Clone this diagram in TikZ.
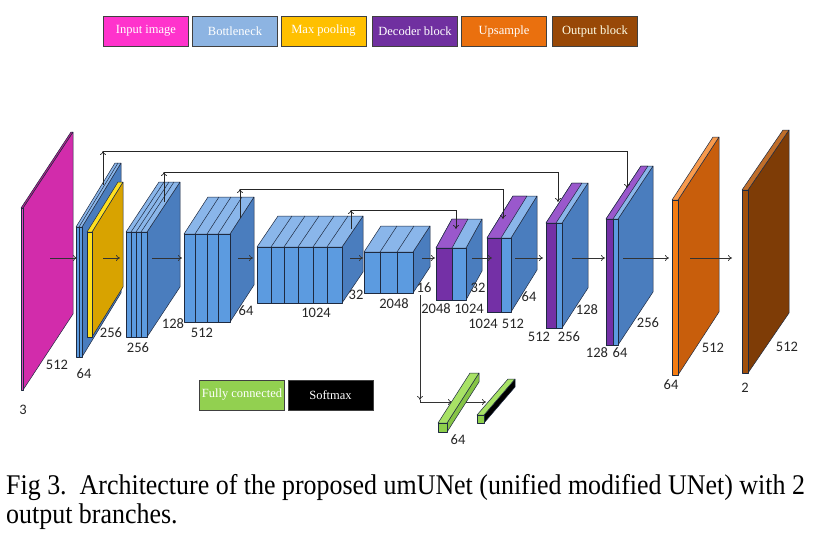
\documentclass[tikz,border=0pt]{standalone}
\usepackage{fontspec}
\setmainfont{Liberation Serif}
\newfontfamily\numfont{Carlito}
\usetikzlibrary{arrows.meta}
\definecolor{magF}{HTML}{E448C4}
\definecolor{magT}{HTML}{B8208F}
\definecolor{magS}{HTML}{D22CAB}
\definecolor{bluF}{HTML}{5C9BE0}
\definecolor{bluT}{HTML}{8AB6EA}
\definecolor{bluS}{HTML}{4A7DBE}
\definecolor{golF}{HTML}{FFE020}
\definecolor{golT}{HTML}{FFE020}
\definecolor{golS}{HTML}{D8A300}
\definecolor{purF}{HTML}{7430A6}
\definecolor{purT}{HTML}{9A58CC}
\definecolor{oraF}{HTML}{F47C12}
\definecolor{oraT}{HTML}{F89A4C}
\definecolor{oraS}{HTML}{C85E0C}
\definecolor{brnF}{HTML}{A0500C}
\definecolor{brnT}{HTML}{C06E2A}
\definecolor{brnS}{HTML}{7E3C06}
\definecolor{grnF}{HTML}{8ED04C}
\definecolor{grnT}{HTML}{A8E266}
\definecolor{grnS}{HTML}{86C446}
\definecolor{legMag}{HTML}{FF33CC}
\definecolor{legBlu}{HTML}{8DB4E2}
\definecolor{legGol}{HTML}{FFC000}
\definecolor{legPur}{HTML}{7030A0}
\definecolor{legOra}{HTML}{EA700E}
\definecolor{legBrn}{HTML}{984807}
\definecolor{legGrn}{HTML}{92D050}
\definecolor{edgecol}{HTML}{1E2A40}
\definecolor{arrcol}{HTML}{333333}
% x y w h dx dy front top side
\newcommand\ucube[9]{%
  \filldraw[cubeedge,fill=#9] (#1+#3,#2) -- ++(#5,-#6) -- ++(0,#4) -- ++(-#5,#6) -- cycle;
  \filldraw[cubeedge,fill=#8] (#1,#2) -- ++(#5,-#6) -- ++(#3,0) -- ++(-#5,#6) -- cycle;
  \filldraw[cubeedge,fill=#7] (#1,#2) rectangle ++(#3,#4);
}
% decoder block: x y wpurple wblue h dx dy
\newcommand\ucubeD[7]{%
  \ucube{#1}{#2}{#3+#4}{#5}{#6}{#7}{bluF}{bluT}{bluS}
  \filldraw[cubeedge,fill=purT] (#1,#2) -- ++(#6,-#7) -- ++(#3,0) -- ++(-#6,#7) -- cycle;
  \filldraw[cubeedge,fill=purF] (#1,#2) rectangle ++(#3,#5);
}
% slice lines: list y h dx dy
\newcommand\uslices[5]{%
  \foreach \s in {#1} {\draw[cubeedge] (\s,#2) -- ++(0,#3); \draw[cubeedge] (\s,#2) -- ++(#4,-#5);}
}
\begin{document}
\begin{tikzpicture}[x=1pt,y=-1pt,
  cubeedge/.style={draw=edgecol,line width=0.5pt,line join=round},
  legend/.style={draw=black!75,line width=0.9pt,minimum width=85pt,minimum height=30pt,inner sep=0pt,text=white,font=\fontsize{12.5}{13}\selectfont},
  num/.style={font=\numfont\fontsize{14.5}{15}\selectfont,text=black!85,inner sep=0pt},
  arr/.style={draw=arrcol,line width=0.7pt,-{To[length=4pt,width=6pt]}},
  skip/.style={draw=black!85,line width=0.7pt,-{To[length=4pt,width=6pt]}},
  capt/.style={font=\fontsize{28.5}{29}\selectfont,inner sep=0pt,anchor=base west}]
\fill[white] (0,0) rectangle (833,536);
\useasboundingbox (0,0) rectangle (833,536);

% legend
\node[legend,fill=legMag] (lin) at (146,31) {Input image};
\node[legend,fill=legBlu] (lbo) at (235,31) {Bottleneck};
\node[legend,fill=legGol] (lmp) at (323.5,31) {Max pooling};
\node[legend,fill=legPur] (lde) at (415,31) {Decoder block};
\node[legend,fill=legOra] (lup) at (504,31) {Upsample};
\node[legend,fill=legBrn,text=white!90!yellow] (lou) at (595,31) {Output block};
\node[legend,fill=legGrn] (lfc) at (242,395) {Fully connected};
\node[legend,fill=black] (lsm) at (330.5,395) {Softmax};

% blocks
\ucube{21}{208}{2}{182}{50}{76}{magF}{magT}{magS}
\ucube{76}{227}{6}{130}{39}{64}{bluF}{bluT}{bluS}
\uslices{79}{227}{130}{39}{64}
\ucube{87}{232}{5}{105}{31}{50}{golF}{golT}{golS}
\ucube{126}{232}{21}{105}{33}{50}{bluF}{bluT}{bluS}
\uslices{131,136,141}{232}{105}{33}{50}
\ucube{184}{234}{46}{88}{24}{37}{bluF}{bluT}{bluS}
\uslices{195,207,218}{234}{88}{24}{37}
\ucube{257}{247}{85}{56}{21}{31}{bluF}{bluT}{bluS}
\uslices{271,284,298,313,327}{247}{56}{21}{31}
\draw[cubeedge,line width=1pt] (313,247) -- ++(0,56);
\ucube{364}{252}{49}{41}{17}{26}{bluF}{bluT}{bluS}
\uslices{380,397}{252}{41}{17}{26}
\ucubeD{436}{248}{16}{14}{52}{16}{29}
\ucubeD{487}{238}{14}{10}{74}{26}{42}
\ucubeD{546}{223}{10}{6}{105}{26}{40}
\ucubeD{606}{219}{7}{5}{126}{35}{53}
\ucube{672}{200}{6}{175}{41}{63}{oraF}{oraT}{oraS}
\ucube{742}{190}{6}{183}{41}{60}{brnF}{brnT}{brnS}

% main flow arrows
\foreach \n/\a/\b in {1/50/77,2/103/120,3/152/182,4/238/253,5/350/363,6/422/435,7/472/492,8/515/543,9/572/605,10/623/669,11/690/732}{
  \coordinate (f\n s) at (\a,258);
  \coordinate (f\n e) at (\b,258);
  \draw[arr] (f\n s) -- (f\n e);
}

% skip connections
\foreach \n/\xa/\ya/\yh/\xb/\yb in {1/103/185/151/627/188,2/164/202/172/558/202,3/240/218/189/503/219,4/351/229/210/456/229}{
  \coordinate (k\n s) at (\xa,\ya);
  \coordinate (k\n c) at (\xa,\yh);
  \coordinate (k\n e) at (\xb,\yb);
  \draw[skip] (k\n s) -- (k\n c);
  \draw[skip] (k\n c) -| (k\n e);
}

% classification branch
\coordinate (b0) at (420,295);
\coordinate (b1) at (420,400);
\coordinate (b2) at (420,402);
\coordinate (b3) at (452,402);
\coordinate (b4) at (466,402);
\coordinate (b5) at (486,402);
\draw[arr] (b0) -- (b1);
\draw[draw=arrcol,line width=0.7pt] (b1) -- (b2);
\draw[arr] (b2) -- (b3);
\ucube{438}{423}{9}{9}{32}{50}{grnF}{grnT}{grnS}
\draw[arr] (b4) -- (b5);
\ucube{477}{415}{7}{8}{31}{36}{grnF}{grnT}{black}

% dimension labels
\node[num] (n1) at (23,410) {3};
\node[num] (n2) at (57,365) {512};
\node[num] (n3) at (84,374) {64};
\node[num] (n4) at (111,333) {256};
\node[num] (n5) at (138,348) {256};
\node[num] (n6) at (173,324) {128};
\node[num] (n7) at (202,333) {512};
\node[num] (n8) at (246,311) {64};
\node[num] (n9) at (316,313) {1024};
\node[num] (n10) at (356,295) {32};
\node[num] (n11) at (394,304) {2048};
\node[num] (n12) at (424,288) {16};
\node[num] (n13) at (436,309) {2048};
\node[num] (n14) at (469,309) {1024};
\node[num] (n15) at (478,288) {32};
\node[num] (n16) at (483,324) {1024};
\node[num] (n17) at (513,324) {512};
\node[num] (n18) at (529,297) {64};
\node[num] (n19) at (587,310) {128};
\node[num] (n20) at (539,337) {512};
\node[num] (n21) at (569,337) {256};
\node[num] (n22) at (648,323) {256};
\node[num] (n23) at (597,353) {128};
\node[num] (n24) at (620,353) {64};
\node[num] (n25) at (671,385) {64};
\node[num] (n26) at (713,348) {512};
\node[num] (n27) at (745,388) {2};
\node[num] (n28) at (787,347) {512};
\node[num] (n29) at (458,440) {64};

% caption
\node[capt] (c1) at (6,494) {\scalebox{0.91}[1]{Fig 3.\ \ Architecture of the proposed umUNet (unified modified UNet) with 2}};
\node[capt] (c2) at (6,523) {\scalebox{0.91}[1]{output branches.}};
\end{tikzpicture}
\end{document}
